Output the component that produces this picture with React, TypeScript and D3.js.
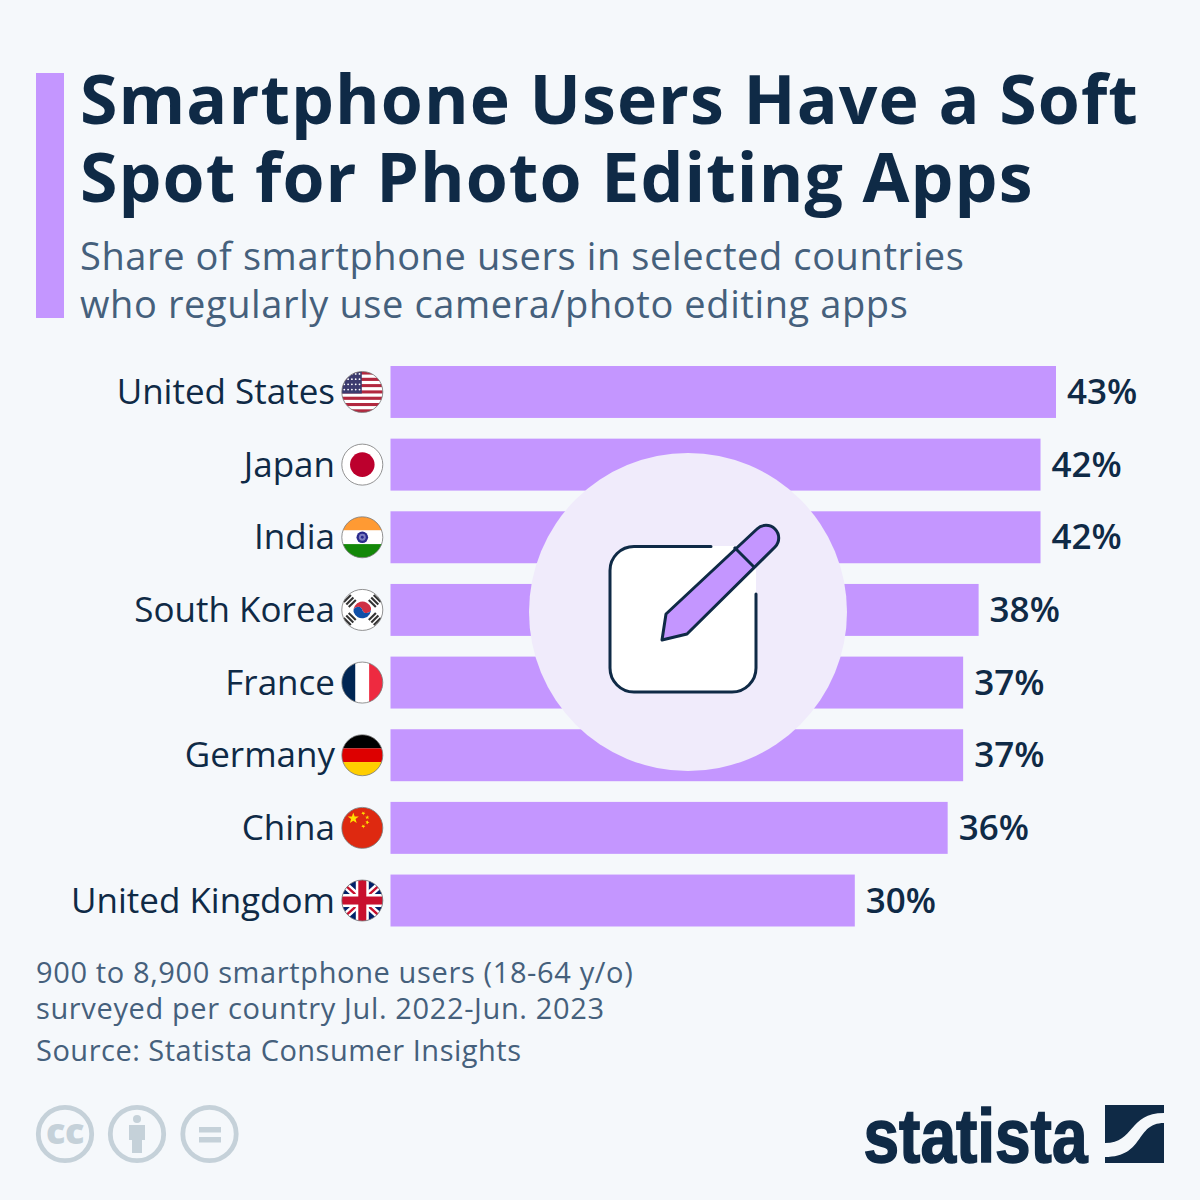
import React from "react";
import * as d3 from "d3";

const countries = ["United States", "Japan", "India", "South Korea", "France", "Germany", "China", "United Kingdom"];
const shares = [43, 42, 42, 38, 37, 37, 36, 30];
const flagCodes = ["us", "jp", "in", "kr", "fr", "de", "cn", "gb"];
const titleLines = ["Smartphone Users Have a Soft", "Spot for Photo Editing Apps"];
const subtitleLines = ["Share of smartphone users in selected countries", "who regularly use camera/photo editing apps"];
const noteLines = ["900 to 8,900 smartphone users (18-64 y/o)", "surveyed per country Jul. 2022-Jun. 2023"];
const sourceLine = "Source: Statista Consumer Insights";

const NAVY = "#0f2a46";
const PURPLE = "#c496ff";
const GREY = "#45607c";
const BG = "#f5f8fb";
const FONT = "'Open Sans', sans-serif";
const ICON = "#c5d1d9";

const x = d3.scaleLinear().domain([0, 43]).range([390.5, 1056]);
const y = d3.scaleBand<string>().domain(countries).range([366, 926.5]).paddingInner(0.285).paddingOuter(0);

function star(cx: number, cy: number, r: number, rot = -Math.PI / 2) {
  const pts: string[] = [];
  for (let i = 0; i < 10; i++) {
    const rr = i % 2 ? r * 0.4 : r;
    const a = rot + (i * Math.PI) / 5;
    pts.push(`${cx + rr * Math.cos(a)},${cy + rr * Math.sin(a)}`);
  }
  return pts.join(" ");
}

function Flag({ code, cy }: { code: string; cy: number }) {
  const cx = 362.3;
  const r = 20.5;
  const L = cx - r, T = cy - r, D = r * 2;
  const id = `clip-${code}`;
  let c: React.ReactNode = null;
  if (code === "us") {
    const stripes = d3.range(13);
    const h = D / 13;
    c = (
      <>
        {stripes.map((i) => <rect key={i} x={L} y={T + i * h} width={D} height={h + 0.3} fill={i % 2 ? "#fff" : "#b2283f"} />)}
        <rect x={L} y={T} width={20} height={h * 7} fill="#3c3b6e" />
        {d3.range(4).flatMap((j) => d3.range(5).map((i) => (
          <circle key={`${i}-${j}`} cx={L + 2.5 + i * 3.8} cy={T + 2.5 + j * 5.2} r={0.9} fill="#fff" />
        )))}
      </>
    );
  } else if (code === "jp") {
    c = <><rect x={L} y={T} width={D} height={D} fill="#fff" /><circle cx={cx} cy={cy} r={12.3} fill="#bc002d" /></>;
  } else if (code === "in") {
    c = (
      <>
        <rect x={L} y={T} width={D} height={D / 3} fill="#ff9a33" />
        <rect x={L} y={T + D / 3} width={D} height={D / 3} fill="#fff" />
        <rect x={L} y={T + (2 * D) / 3} width={D} height={D / 3} fill="#138808" />
        <circle cx={cx} cy={cy} r={5.8} fill="#2a2a8c" />
        <circle cx={cx} cy={cy} r={3.4} fill="#7d7dc0" />
        <circle cx={cx} cy={cy} r={1.4} fill="#2a2a8c" />
      </>
    );
  } else if (code === "kr") {
    const bars = [[-12.5, -9, -45], [12.5, -9, 45], [-12.5, 9, 45], [12.5, 9, -45]];
    c = (
      <>
        <rect x={L} y={T} width={D} height={D} fill="#fff" />
        {bars.map(([dx, dy, rot], i) => (
          <g key={i} transform={`translate(${cx + dx},${cy + dy}) rotate(${rot})`}>
            <rect x={-5} y={-4.5} width={10} height={2.1} fill="#333" />
            <rect x={-5} y={-1} width={10} height={2.1} fill="#333" />
            <rect x={-5} y={2.5} width={10} height={2.1} fill="#333" />
          </g>
        ))}
        <path d={`M${cx - 8.7},${cy + 2.2} A9,9 0 0 1 ${cx + 8.7},${cy - 2.2} A4.5,4.5 0 0 1 ${cx},${cy} A4.5,4.5 0 0 0 ${cx - 8.7},${cy + 2.2}Z`} fill="#cf3044" />
        <path d={`M${cx - 8.7},${cy + 2.2} A9,9 0 0 0 ${cx + 8.7},${cy - 2.2} A4.5,4.5 0 0 1 ${cx},${cy} A4.5,4.5 0 0 0 ${cx - 8.7},${cy + 2.2}Z`} fill="#0f4fa8" />
      </>
    );
  } else if (code === "fr") {
    c = (
      <>
        <rect x={L} y={T} width={D / 3} height={D} fill="#002654" />
        <rect x={L + D / 3} y={T} width={D / 3} height={D} fill="#fff" />
        <rect x={L + (2 * D) / 3} y={T} width={D / 3} height={D} fill="#ee2a40" />
      </>
    );
  } else if (code === "de") {
    c = (
      <>
        <rect x={L} y={T} width={D} height={D / 3} fill="#000" />
        <rect x={L} y={T + D / 3} width={D} height={D / 3} fill="#dd0000" />
        <rect x={L} y={T + (2 * D) / 3} width={D} height={D / 3} fill="#ffce00" />
      </>
    );
  } else if (code === "cn") {
    c = (
      <>
        <rect x={L} y={T} width={D} height={D} fill="#de2910" />
        <polygon points={star(cx - 9, cy - 9.5, 5.8)} fill="#ffde00" />
        <polygon points={star(cx + 1, cy - 14.5, 2.2, 0.3)} fill="#ffde00" />
        <polygon points={star(cx + 5, cy - 10.5, 2.2, 0.9)} fill="#ffde00" />
        <polygon points={star(cx + 5, cy - 5.5, 2.2, 0)} fill="#ffde00" />
        <polygon points={star(cx + 1, cy - 1.5, 2.2, 0.3)} fill="#ffde00" />
      </>
    );
  } else if (code === "gb") {
    c = (
      <>
        <rect x={L} y={T} width={D} height={D} fill="#012169" />
        <path d={`M${L},${T + 2} L${L + D},${T + D - 2} M${L},${T + D - 2} L${L + D},${T + 2}`} stroke="#fff" strokeWidth={7} />
        <path d={`M${L},${T + 2} L${cx},${cy} M${L + D},${T + D - 2} L${cx},${cy} M${L},${T + D - 2} L${cx},${cy} M${L + D},${T + 2} L${cx},${cy}`} stroke="#c8102e" strokeWidth={2.4} />
        <rect x={cx - 6.5} y={T} width={13} height={D} fill="#fff" />
        <rect x={L} y={cy - 6.5} width={D} height={13} fill="#fff" />
        <rect x={cx - 4} y={T} width={8} height={D} fill="#c8102e" />
        <rect x={L} y={cy - 4} width={D} height={8} fill="#c8102e" />
      </>
    );
  }
  return (
    <g>
      <clipPath id={id}><circle cx={cx} cy={cy} r={r} /></clipPath>
      <g clipPath={`url(#${id})`}>{c}</g>
      <circle cx={cx} cy={cy} r={r} fill="none" stroke="#777" strokeWidth={0.8} />
    </g>
  );
}

export default function App() {
  return (
    <svg width={1200} height={1200} viewBox="0 0 1200 1200" style={{ position: "absolute", left: 0, top: 0 }} fontFamily={FONT}>
      <rect width={1200} height={1200} fill={BG} />
      <rect x={36} y={73} width={28} height={245} fill={PURPLE} />
      {titleLines.map((t, i) => (
        <text key={t} x={80} y={124 + i * 78} fontSize={68} fontWeight={700} fill={NAVY} letterSpacing={1.05}>{t}</text>
      ))}
      {subtitleLines.map((t, i) => (
        <text key={t} x={80} y={270 + i * 48} fontSize={38} fill={GREY} letterSpacing={0.6}>{t}</text>
      ))}

      {countries.map((c, i) => {
        const by = y(c)!;
        const bh = y.bandwidth();
        const cy = by + bh / 2;
        return (
          <g key={c}>
            <rect x={x(0)} y={by} width={x(shares[i]) - x(0)} height={bh} fill={PURPLE} />
            <text x={335} y={cy + 12} textAnchor="end" fontSize={35} fill={NAVY}>{c}</text>
            <Flag code={flagCodes[i]} cy={cy} />
            <text x={x(shares[i]) + 11} y={cy + 12} fontSize={35} fontWeight={600} fill={NAVY}>{shares[i]}%</text>
          </g>
        );
      })}

      <circle cx={688} cy={612} r={159} fill="#f0ebfb" />
      <rect x={610} y={546} width={146} height={146} rx={24} fill="#fff" />
      <path d="M711,546.5 H634 A24,24 0 0 0 610,570.5 V668 A24,24 0 0 0 634,692 H732 A24,24 0 0 0 756,668 V594" fill="none" stroke={NAVY} strokeWidth={3} strokeLinecap="round" />
      <path d="M666,614 L757,529 A12,12 0 0 1 775,547 L687,634 L662,640 Z" fill={PURPLE} stroke={NAVY} strokeWidth={3} strokeLinejoin="round" />
      <path d="M734,547 L754,567" stroke={NAVY} strokeWidth={3} />

      {noteLines.map((t, i) => (
        <text key={t} x={36} y={983 + i * 36} fontSize={29} fill={GREY} letterSpacing={0.63}>{t}</text>
      ))}
      <text x={36} y={1061} fontSize={29} fill={GREY} letterSpacing={0.5}>{sourceLine}</text>

      {[65, 137, 209.5].map((cx) => (
        <circle key={cx} cx={cx} cy={1134} r={26.7} fill="none" stroke={ICON} strokeWidth={4.8} />
      ))}
      <text x={65} y={1144} textAnchor="middle" fontSize={36} fontWeight={800} fill={ICON} letterSpacing={-0.5}>cc</text>
      <circle cx={137} cy={1119} r={4} fill={ICON} />
      <path d="M129,1125 H145 V1140 H142 V1153 H132 V1140 H129 Z" fill={ICON} />
      <rect x={199} y={1127} width={22} height={5.5} fill={ICON} />
      <rect x={199} y={1137} width={22} height={5.5} fill={ICON} />

      <text x={863.5} y={1162} fontFamily="'Liberation Sans Narrow','Liberation Sans',sans-serif" fontSize={76} fontWeight={700} fill={NAVY} stroke={NAVY} strokeWidth={1.6} textLength={224} lengthAdjust="spacingAndGlyphs">statista</text>
      <path d="M1105,1105 H1164 V1113 C1128,1113 1135,1143 1105,1143 Z" fill={NAVY} />
      <path d="M1164,1123 V1163 H1105 V1157 C1145,1157 1135,1123 1164,1123 Z" fill={NAVY} />
    </svg>
  );
}
